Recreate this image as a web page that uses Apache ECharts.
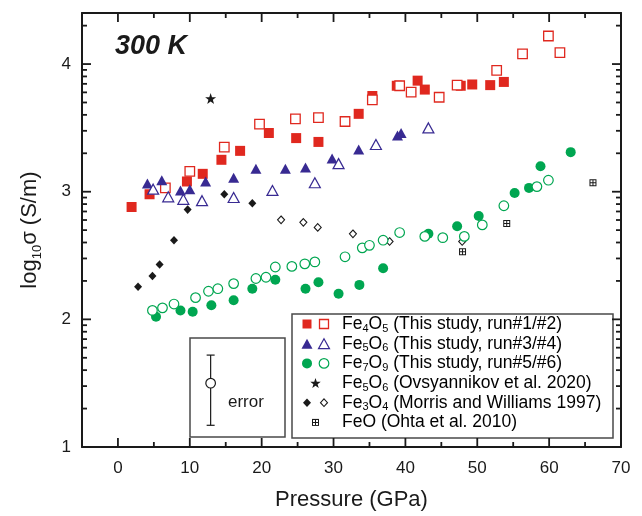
<!DOCTYPE html>
<html>
<head>
<meta charset="utf-8">
<script src="https://cdn.jsdelivr.net/npm/echarts@6/dist/echarts.min.js"></script>
<style>
  html, body { margin: 0; padding: 0; background: #fff; }
  #chart { width: 642px; height: 516px; }
</style>
</head>
<body>
<div id="chart"></div>
<script>
// Electrical conductivity of iron oxides at 300 K: [pressure (GPa), log10 sigma (S/m)]
const fe4o5Run1 = [[1.9,2.88],[4.4,2.98],[9.6,3.08],[11.8,3.14],[14.4,3.25],[17.0,3.32],[21.0,3.46],[24.8,3.42],[27.9,3.39],[33.5,3.61],[35.4,3.75],[38.8,3.83],[41.7,3.87],[42.7,3.80],[47.7,3.83],[49.3,3.84],[51.8,3.835],[53.7,3.86]];
const fe4o5Run2 = [[6.6,3.03],[10.0,3.16],[14.8,3.35],[19.7,3.53],[24.7,3.57],[27.9,3.58],[31.6,3.55],[35.4,3.72],[39.2,3.83],[40.8,3.78],[44.7,3.74],[47.2,3.835],[52.7,3.95],[56.3,4.08],[59.9,4.22],[61.5,4.09]];
const fe5o6Run3 = [[4.1,3.065],[6.1,3.09],[8.7,3.01],[10.0,3.02],[12.2,3.08],[16.1,3.11],[19.2,3.18],[23.3,3.18],[26.1,3.19],[29.8,3.26],[33.5,3.33],[38.9,3.44],[39.4,3.46]];
const fe5o6Run4 = [[4.9,3.02],[7.0,2.96],[9.1,2.94],[11.7,2.93],[16.1,2.955],[21.5,3.01],[27.4,3.07],[30.7,3.22],[35.9,3.37],[43.2,3.50]];
const fe7o9Run5 = [[5.3,2.02],[8.7,2.07],[10.4,2.06],[13.0,2.11],[16.1,2.15],[18.7,2.24],[21.9,2.31],[26.1,2.24],[27.9,2.29],[30.7,2.20],[33.6,2.27],[36.9,2.40],[43.2,2.67],[47.2,2.73],[50.2,2.81],[55.2,2.99],[57.2,3.03],[58.8,3.20],[63.0,3.31]];
const fe7o9Run6 = [[4.8,2.07],[6.2,2.09],[7.8,2.12],[10.8,2.17],[12.6,2.22],[13.9,2.24],[16.1,2.28],[19.2,2.32],[20.6,2.33],[21.9,2.41],[24.2,2.415],[26.0,2.435],[27.4,2.45],[31.6,2.49],[34.0,2.56],[35.0,2.58],[36.9,2.62],[39.2,2.68],[42.7,2.65],[45.2,2.64],[48.2,2.65],[50.7,2.74],[53.7,2.89],[58.3,3.04],[59.9,3.09]];
const fe5o6Ovsyannikov = [[12.9,3.73]];
const fe3o4MorrisFilled = [[2.8,2.255],[4.8,2.34],[5.8,2.43],[7.8,2.62],[9.7,2.86],[14.8,2.98],[18.7,2.91]];
const fe3o4MorrisOpen = [[22.7,2.78],[25.8,2.76],[27.8,2.72],[32.7,2.67],[37.8,2.61],[47.9,2.61]];
const feoOhta = [[47.95,2.53],[54.1,2.75],[66.1,3.07]];
// Representative error bar: [pressure, value, low, high]
const errorBar = [[12.9, 1.50, 1.17, 1.72]];

// Axis ranges and ticks
const xRange = [-5, 70];
const yRange = [1, 4.4];
const xMajorTicks = [0, 10, 20, 30, 40, 50, 60, 70];
const xMinorTicks = [5, 15, 25, 35, 45, 55, 65];
const yMajorTicks = [1, 2, 3, 4];
const yMinorTicks = [];
for (let d = 1; d <= 4; d++) {
  for (let k = 2; k <= 9; k++) {
    const v = d + Math.log10(k);
    if (v < yRange[1]) yMinorTicks.push(+v.toFixed(4));
  }
}

const legendLabels = [
  '{n|Fe}{s|4}{n|O}{s|5}{n| (This study, run#1/#2)}',
  '{n|Fe}{s|5}{n|O}{s|6}{n| (This study, run#3/#4)}',
  '{n|Fe}{s|7}{n|O}{s|9}{n| (This study, run#5/#6)}',
  '{n|Fe}{s|5}{n|O}{s|6}{n| (Ovsyannikov et al. 2020)}',
  '{n|Fe}{s|3}{n|O}{s|4}{n| (Morris and Williams 1997)}',
  '{n|FeO (Ohta et al. 2010)}'
];

const FONT = '"Liberation Sans", Arial, Helvetica, sans-serif';
const INK = '#1a1a1a';
const RED = '#e0281f';
const BLUE = '#382a92';
const GREEN = '#00a651';

function starPoints(cx, cy, R, r) {
  const pts = [];
  for (let i = 0; i < 10; i++) {
    const a = -Math.PI / 2 + i * Math.PI / 5;
    const rad = i % 2 === 0 ? R : r;
    pts.push([cx + rad * Math.cos(a), cy + rad * Math.sin(a)]);
  }
  return pts;
}
const starSymbol = 'path://' + starPoints(10, 10, 10, 4).map((p, i) => (i ? 'L' : 'M') + p[0].toFixed(2) + ',' + p[1].toFixed(2)).join(' ') + ' Z';
// small black box with four white windows
const feoSymbol = 'path://M0,0H7V7H0Z M1,1V3H3V1Z M4,1V3H6V1Z M1,4V6H3V4Z M4,4V6H6V4Z';

const chart = echarts.init(document.getElementById('chart'), null, { renderer: 'canvas' });

const frameLine = { show: true, onZero: false, lineStyle: { color: INK, width: 2 } };

function xAxisDef(position, withLabels) {
  return {
    type: 'value', min: xRange[0], max: xRange[1], position: position,
    axisLine: frameLine,
    splitLine: { show: false },
    axisTick: { show: false },
    axisLabel: withLabels ? { show: true, customValues: xMajorTicks, margin: 13,
                              color: INK, fontSize: 17, fontFamily: FONT } : { show: false },
    name: withLabels ? 'Pressure (GPa)' : '',
    nameLocation: 'middle', nameGap: 42,
    nameTextStyle: { color: INK, fontSize: 22, fontFamily: FONT }
  };
}
function yAxisDef(position, withLabels) {
  return {
    type: 'value', min: yRange[0], max: yRange[1], position: position,
    axisLine: frameLine,
    splitLine: { show: false },
    axisTick: { show: false },
    axisLabel: withLabels ? { show: true, customValues: yMajorTicks, margin: 11,
                              color: INK, fontSize: 17, fontFamily: FONT } : { show: false },
    name: withLabels ? '{n|log}{s|10}{n|σ (S/m)}' : '',
    nameLocation: 'middle', nameGap: 38, nameRotate: 90,
    nameTextStyle: {
      color: INK, fontFamily: FONT,
      rich: {
        n: { fontSize: 22, lineHeight: 28, color: INK, fontFamily: FONT },
        s: { fontSize: 13, lineHeight: 10, verticalAlign: 'bottom', color: INK, fontFamily: FONT }
      }
    }
  };
}

function scatter(name, data, symbol, size, fill, stroke, bw) {
  return {
    name: name, type: 'scatter', data: data, symbol: symbol, symbolSize: size,
    xAxisIndex: 0, yAxisIndex: 0, silent: true, animation: false,
    itemStyle: { color: fill, borderColor: stroke || fill, borderWidth: bw || 0, opacity: 1 }
  };
}

const errorSeries = {
  name: 'error', type: 'custom', data: errorBar, silent: true, animation: false,
  xAxisIndex: 0, yAxisIndex: 0,
  renderItem: function (params, api) {
    const c = api.coord([api.value(0), api.value(1)]);
    const lo = api.coord([api.value(0), api.value(2)]);
    const hi = api.coord([api.value(0), api.value(3)]);
    const w = 4;
    const ls = { stroke: INK, lineWidth: 1.2 };
    return {
      type: 'group',
      children: [
        { type: 'line', shape: { x1: c[0], y1: lo[1], x2: c[0], y2: hi[1] }, style: ls },
        { type: 'line', shape: { x1: c[0] - w, y1: lo[1], x2: c[0] + w, y2: lo[1] }, style: ls },
        { type: 'line', shape: { x1: c[0] - w, y1: hi[1], x2: c[0] + w, y2: hi[1] }, style: ls },
        { type: 'circle', shape: { cx: c[0], cy: c[1], r: 4.8 }, style: { fill: '#fff', stroke: INK, lineWidth: 1.2 } }
      ]
    };
  }
};

// Legend block, drawn as graphic primitives so each row can carry two symbols
const legendBox = { x: 292, y: 314, w: 321, h: 124 };
const rowY = [324, 343.7, 363.4, 383, 402.7, 422.4];
const symA = 307, symB = 324, symMid = 315.5, textX = 342;
const legendRich = {
  n: { fontSize: 17.5, lineHeight: 20, color: INK, fontFamily: FONT },
  s: { fontSize: 11, lineHeight: 8, verticalAlign: 'bottom', color: INK, fontFamily: FONT }
};
function tri(cx, cy, w, h) { return [[cx, cy - h / 2], [cx + w / 2, cy + h / 2], [cx - w / 2, cy + h / 2]]; }
function dia(cx, cy, w, h) { return [[cx, cy - h / 2], [cx + w / 2, cy], [cx, cy + h / 2], [cx - w / 2, cy]]; }
function box(x, y, w, h, style) { return { type: 'rect', shape: { x: x, y: y, width: w, height: h }, style: style, z: 11 }; }

const legendGraphics = [
  { type: 'rect', shape: { x: legendBox.x, y: legendBox.y, width: legendBox.w, height: legendBox.h },
    style: { fill: '#fff', stroke: '#4a4a4a', lineWidth: 1.5 }, z: 10 },
  box(symA - 4.5, rowY[0] - 4.5, 9, 9, { fill: RED }),
  box(symB - 4.5, rowY[0] - 4.5, 9, 9, { fill: '#fff', stroke: RED, lineWidth: 1.3 }),
  { type: 'polygon', shape: { points: tri(symA, rowY[1], 11, 10) }, style: { fill: BLUE }, z: 11 },
  { type: 'polygon', shape: { points: tri(symB, rowY[1], 11, 10) }, style: { fill: '#fff', stroke: BLUE, lineWidth: 1.2 }, z: 11 },
  { type: 'circle', shape: { cx: symA, cy: rowY[2], r: 5 }, style: { fill: GREEN }, z: 11 },
  { type: 'circle', shape: { cx: symB, cy: rowY[2], r: 4.8 }, style: { fill: '#fff', stroke: GREEN, lineWidth: 1.2 }, z: 11 },
  { type: 'polygon', shape: { points: starPoints(symMid, rowY[3] + 0.5, 5.5, 2.2) }, style: { fill: INK }, z: 11 },
  { type: 'polygon', shape: { points: dia(symA, rowY[4], 8, 8.6) }, style: { fill: INK }, z: 11 },
  { type: 'polygon', shape: { points: dia(symB, rowY[4], 7, 7.6) }, style: { fill: '#fff', stroke: INK, lineWidth: 1.1 }, z: 11 },
  box(symMid - 3.5, rowY[5] - 3.5, 7, 7, { fill: INK }),
  box(symMid - 2.5, rowY[5] - 2.5, 2, 2, { fill: '#fff' }),
  box(symMid + 0.5, rowY[5] - 2.5, 2, 2, { fill: '#fff' }),
  box(symMid - 2.5, rowY[5] + 0.5, 2, 2, { fill: '#fff' }),
  box(symMid + 0.5, rowY[5] + 0.5, 2, 2, { fill: '#fff' })
];
legendLabels.forEach(function (label, i) {
  legendGraphics.push({
    type: 'text', z: 11,
    style: { text: label, x: textX, y: rowY[i], verticalAlign: 'middle', align: 'left', rich: legendRich }
  });
});

const option = {
  backgroundColor: '#fff',
  animation: false,
  grid: { left: 82, top: 13, width: 539, height: 434, containLabel: false, outerBoundsMode: 'none' },
  xAxis: [ xAxisDef('bottom', true), xAxisDef('top', false) ],
  yAxis: [ yAxisDef('left', true), yAxisDef('right', false) ],
  series: [
    scatter('Fe3O4 Morris filled', fe3o4MorrisFilled, 'diamond', [8, 8.6], INK),
    scatter('Fe3O4 Morris open', fe3o4MorrisOpen, 'diamond', [7, 7.6], '#fff', INK, 1.1),
    scatter('FeO Ohta', feoOhta, feoSymbol, 7, INK),
    scatter('Fe5O6 Ovsyannikov', fe5o6Ovsyannikov, starSymbol, 11, INK),
    scatter('Fe4O5 run#1', fe4o5Run1, 'rect', 10, RED),
    scatter('Fe4O5 run#2', fe4o5Run2, 'rect', 9.5, '#fff', RED, 1.3),
    scatter('Fe5O6 run#3', fe5o6Run3, 'triangle', [11, 10], BLUE),
    scatter('Fe5O6 run#4', fe5o6Run4, 'triangle', [11, 10], '#fff', BLUE, 1.2),
    scatter('Fe7O9 run#5', fe7o9Run5, 'circle', 10, GREEN),
    scatter('Fe7O9 run#6', fe7o9Run6, 'circle', 9.6, '#fff', GREEN, 1.2),
    errorSeries
  ],
  graphic: [
    { type: 'text', z: 11,
      style: { text: '300 K', x: 115, y: 33, fill: INK, fontSize: 27, fontWeight: 'bold', fontStyle: 'italic', fontFamily: FONT } },
    { type: 'rect', shape: { x: 190, y: 338, width: 95, height: 99 },
      style: { fill: 'transparent', stroke: '#4a4a4a', lineWidth: 1.5 }, z: 10 },
    { type: 'text', z: 11,
      style: { text: 'error', x: 228, y: 402, verticalAlign: 'middle', fill: INK, fontSize: 17, fontFamily: FONT } }
  ].concat(legendGraphics)
};

chart.setOption(option);

// Inward tick marks on all four sides as thin filled bars, positioned with the chart's own axis scales
function tickMarks() {
  const out = [];
  const bar = (x, y, w, h) => out.push({ type: 'rect', z: 20, silent: true,
    shape: { x: x, y: y, width: w, height: h }, style: { fill: INK } });
  const xTicks = xMajorTicks.map(v => [v, 9]).concat(xMinorTicks.map(v => [v, 5]));
  const yTicks = yMajorTicks.map(v => [v, 9]).concat(yMinorTicks.map(v => [v, 5]));
  xTicks.forEach(([v, len]) => {
    const b = chart.convertToPixel({ gridIndex: 0 }, [v, yRange[0]]);
    const t = chart.convertToPixel({ gridIndex: 0 }, [v, yRange[1]]);
    bar(b[0] - 0.9, b[1] - len, 1.8, len);
    bar(t[0] - 0.9, t[1], 1.8, len);
  });
  yTicks.forEach(([v, len]) => {
    const l = chart.convertToPixel({ gridIndex: 0 }, [xRange[0], v]);
    const r = chart.convertToPixel({ gridIndex: 0 }, [xRange[1], v]);
    bar(l[0], l[1] - 0.9, len, 1.8);
    bar(r[0] - len, r[1] - 0.9, len, 1.8);
  });
  return out;
}
chart.setOption({ graphic: option.graphic.concat(tickMarks()) });
</script>
</body>
</html>
